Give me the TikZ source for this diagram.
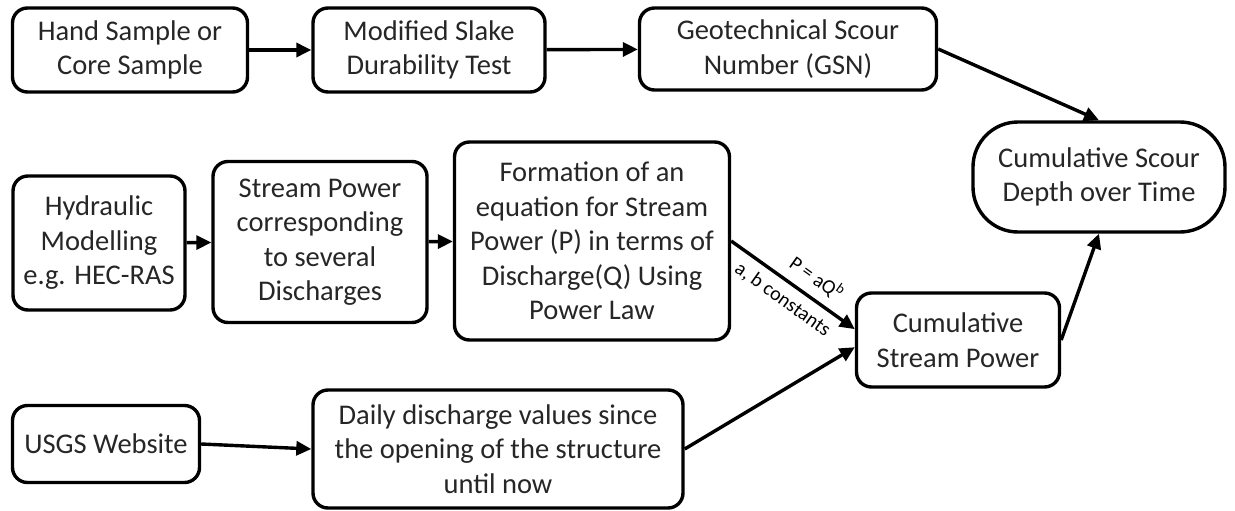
\documentclass[tikz,border=0pt]{standalone}
\usepackage{fontspec}
\setmainfont{Carlito}
\usetikzlibrary{arrows.meta}
\begin{document}
\begin{tikzpicture}[x=1pt, y=-1pt, line width=3.4pt,
  every node/.style={draw, rounded corners=15pt, align=center, fill=white, inner sep=2pt, text=black!85, font=\fontsize{28.5}{34.5}\selectfont},
  flow/.style={-{Triangle[length=15pt,width=14pt]}},
  lbl/.style={draw=none, fill=none, inner sep=1pt, text=black, font=\fontsize{20}{22}\selectfont}]
  \useasboundingbox (0,0) rectangle (1235,511);

  % Fila superior
  \node[minimum width=235pt, minimum height=84pt] (hand) at (130,50) {Hand Sample or\\Core Sample};
  \node[minimum width=232pt, minimum height=84pt] (slake) at (429,50) {Modified Slake\\Durability Test};
  \node[minimum width=297pt, minimum height=82pt] (gsn) at (788,49) {Geotechnical Scour\\Number (GSN)};
  \node[minimum width=252pt, minimum height=110pt, rounded corners=45pt] (scour) at (1099,177) {Cumulative Scour\\Depth over Time};

  % Fila central
  \node[minimum width=172pt, minimum height=134pt] (hyd) at (99,243) {Hydraulic\\Modelling\\e.g. HEC-RAS};
  \node[minimum width=214pt, minimum height=161pt] (sp) at (320,242) {Stream Power\\corresponding\\to several\\Discharges};
  \node[minimum width=275pt, minimum height=198pt] (form) at (592,241) {Formation of an\\equation for Stream\\Power (P) in terms of\\Discharge(Q) Using\\Power Law};
  \node[minimum width=203pt, minimum height=94pt] (cumsp) at (958,340) {Cumulative\\Stream Power};

  % Fila inferior
  \node[minimum width=187pt, minimum height=77pt] (usgs) at (106,444) {USGS Website};
  \node[minimum width=370pt, minimum height=118pt] (daily) at (498,449) {Daily discharge values since\\the opening of the structure\\until now};

  \draw[flow] (hand) -- (slake);
  \draw[flow] (slake) -- (gsn);
  \draw[flow] (gsn.east) -- (scour.north);
  \draw[flow] (hyd) -- (sp);
  \draw[flow] (sp) -- (form);
  \draw[flow] (form.east) -- node[lbl, sloped, above=7pt, pos=0.6] {P = aQ\textsuperscript{b}} node[lbl, sloped, below=7pt, pos=0.5] {a, b constants} (cumsp.174);
  \draw[flow] (usgs.east) -- (daily.west);
  \draw[flow] (daily.east) -- (cumsp.184);
  \draw[flow] (cumsp.east) -- (scour.south);
\end{tikzpicture}
\end{document}
